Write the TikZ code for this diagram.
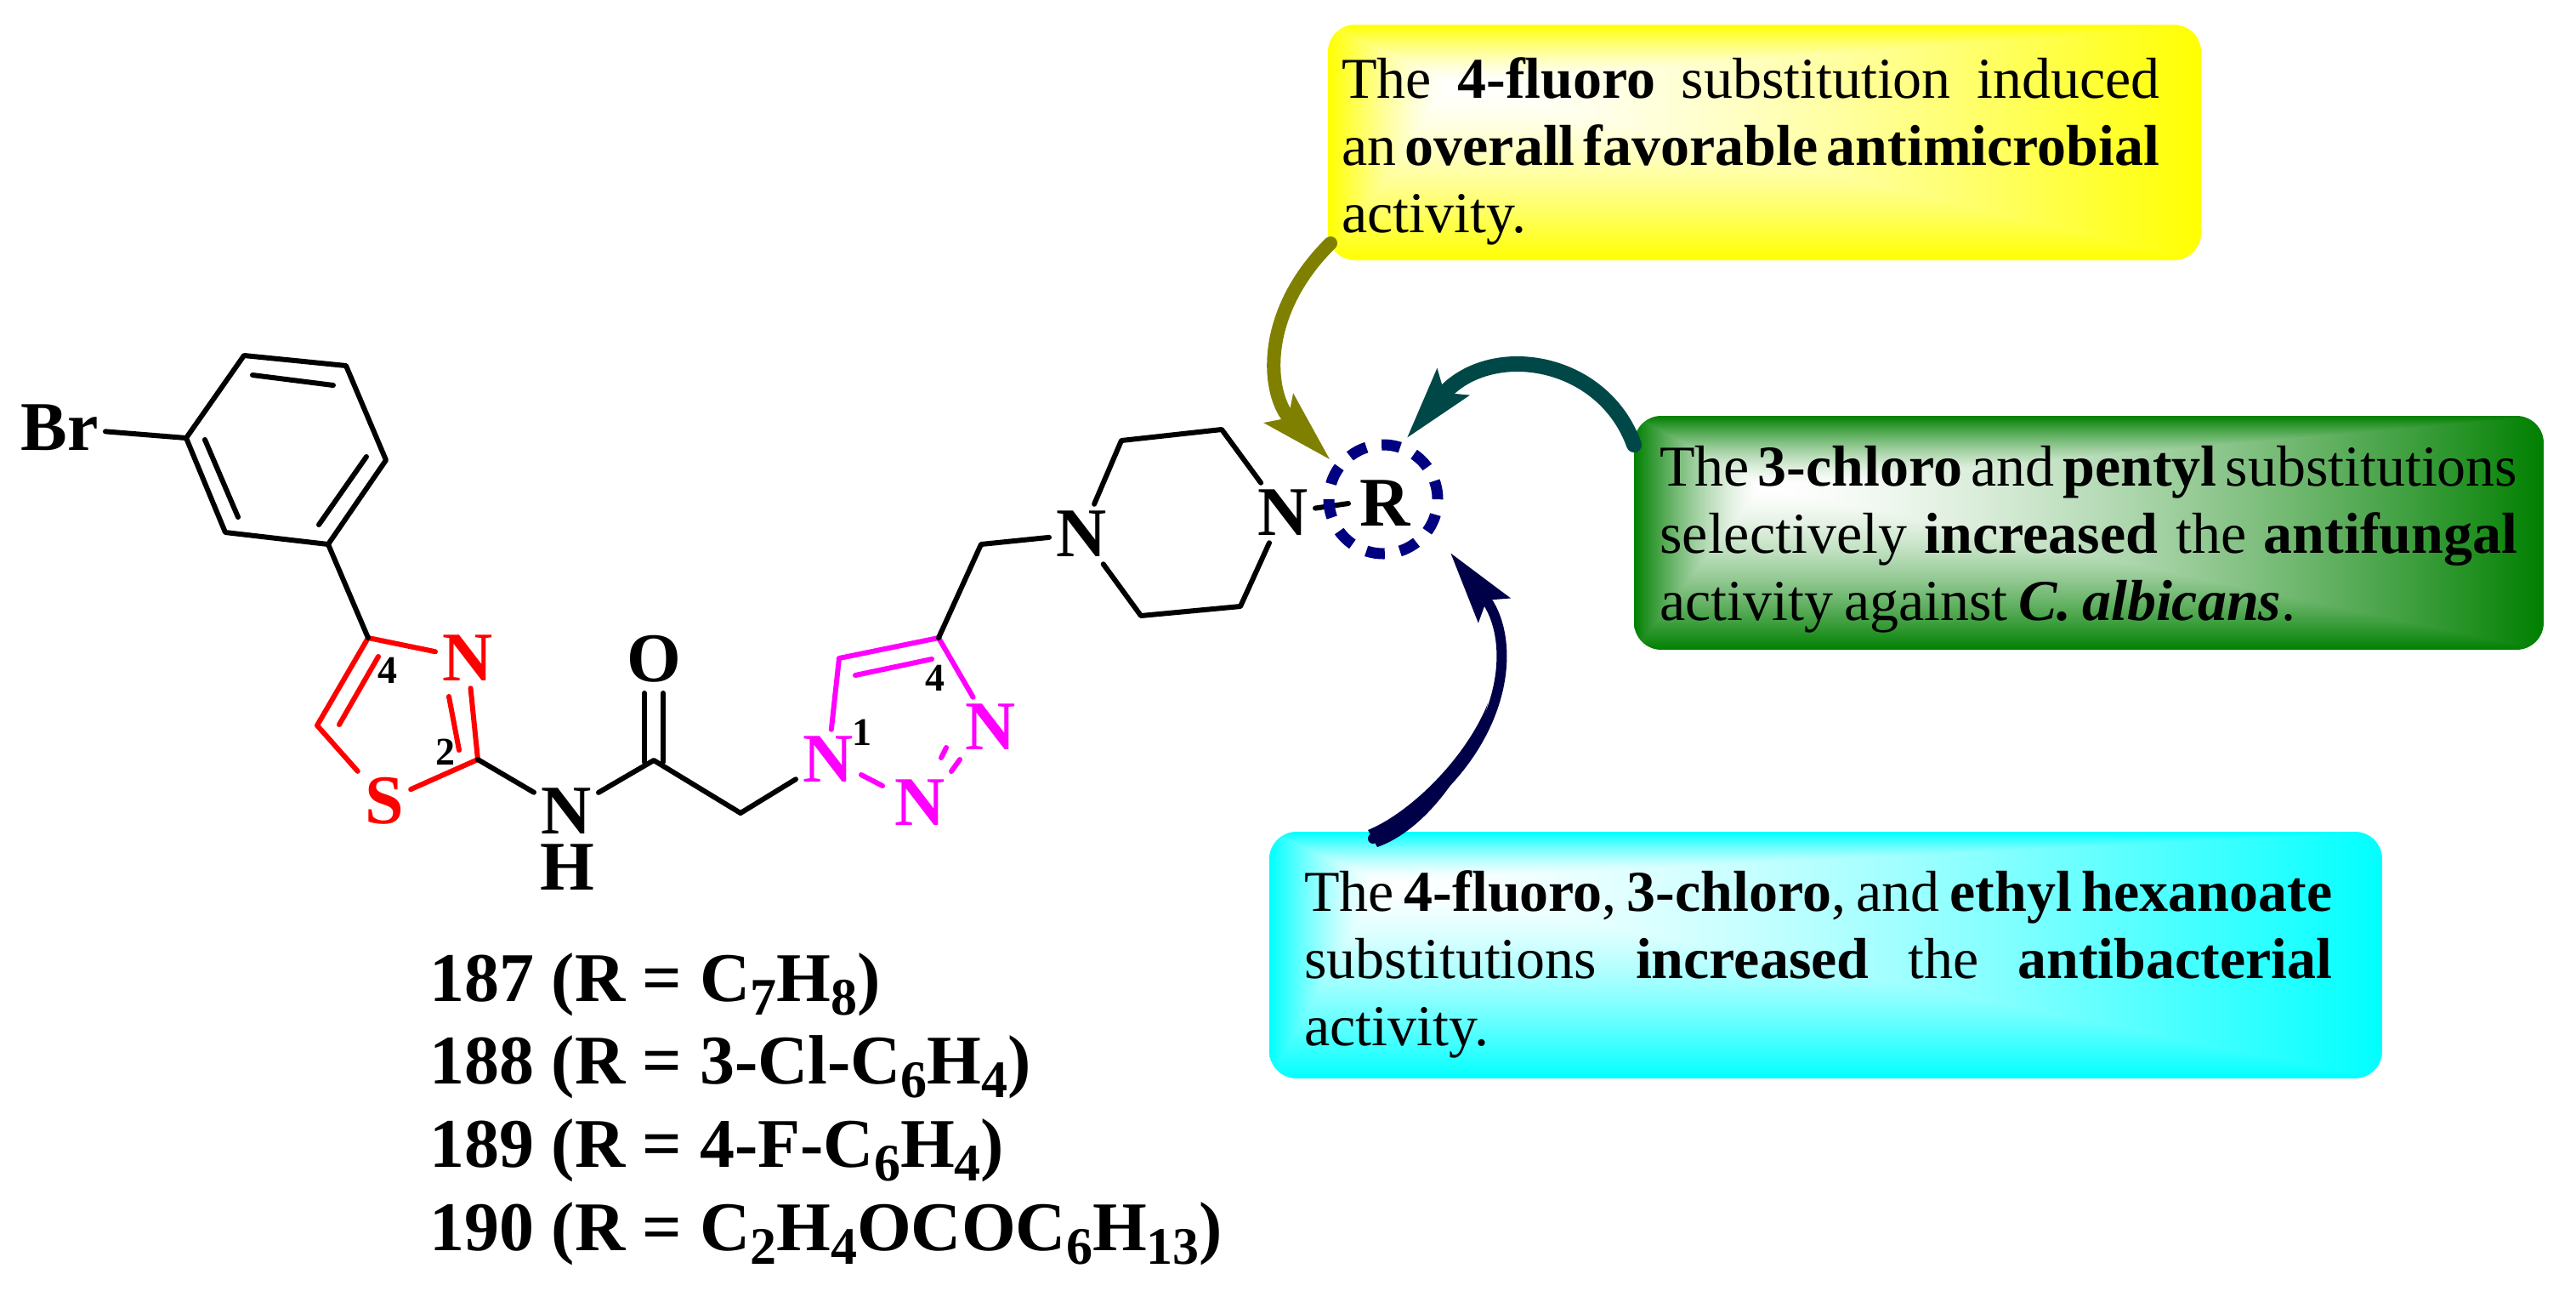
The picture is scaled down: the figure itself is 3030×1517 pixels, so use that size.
\documentclass[tikz,border=0pt]{standalone}
\usepackage{fontspec}
\setmainfont{Liberation Serif}
\usetikzlibrary{arrows.meta}
\newcommand\declbox[6]{%
\pgfdeclarefunctionalshading{#1}{\pgfpoint{-25bp}{-25bp}}{\pgfpoint{25bp}{25bp}}{}{%
 25 exch sub 50 div exch 25 add 50 div exch
 #3 sub dup 0 lt {neg #3 div}{1 #3 sub div} ifelse exch
 #2 sub dup 0 lt {neg #2 div}{1 #2 sub div} ifelse
 2 copy lt {exch} if pop
 dup sqrt mul
 dup dup #6 mul 1 exch sub 3 1 roll #5 mul 1 exch sub exch #4 mul 1 exch sub exch 3 -1 roll}}
\declbox{yshade}{0.14}{0.25}{0}{0}{1}
\declbox{gshade}{0.14}{0.30}{1}{0.5}{1}
\declbox{cshade}{0.10}{0.20}{1}{0}{0}
\definecolor{olivearrow}{HTML}{808000}
\definecolor{tealarrow}{HTML}{004848}
\definecolor{navyarrow}{HTML}{000048}
\definecolor{navyring}{HTML}{000080}
\definecolor{atomred}{HTML}{FF0000}
\definecolor{atommag}{HTML}{FF00FF}
\newcommand\lsub[1]{\raisebox{-.2em}{\fontsize{31}{31}\selectfont #1}}
\newcommand\jl[2]{\hbox to #1{\spaceskip=.14em plus 1em\relax #2}}
\tikzset{
 bond/.style={line width=3pt,line cap=round,line join=round},
 atom/.style={font=\fontsize{41}{41}\selectfont\bfseries,inner sep=4pt},
 idx/.style={font=\fontsize{23}{23}\selectfont\bfseries,inner sep=0pt},
 infotext/.style={anchor=north west,inner sep=0pt,text width=#1,font=\fontsize{34}{39.5}\selectfont},
 listline/.style={anchor=base west,inner sep=0pt,font=\fontsize{41}{41}\selectfont\bfseries},
 conn/.style={line width=#1,line cap=round,-{Stealth[length=42pt,width=23pt,inset=7pt]}},
}
\begin{document}
\begin{tikzpicture}[x=0.5pt,y=-0.5pt]
\useasboundingbox (0,0) rectangle (3030,1517);
% boxes
\shade[shading=yshade,rounded corners=16pt] (1562,29) rectangle (2589,306);
\shade[shading=gshade,rounded corners=16pt] (1922,489) rectangle (2992,764);
\shade[shading=cshade,rounded corners=16pt] (1493,978) rectangle (2802,1268);
\node[infotext=481pt] (ytext) at (1578,67) {\baselineskip=39.5pt
 \jl{481pt}{The \textbf{4-fluoro} substitution induced}
 \jl{481pt}{an \textbf{overall favorable antimicrobial}}
 \hbox{activity.}};
\node[infotext=504.5pt] (gtext) at (1952,524) {\baselineskip=39.5pt
 \jl{504.5pt}{The \textbf{3-chloro} and \textbf{pentyl} substitutions}
 \jl{504.5pt}{selectively \textbf{increased} the \textbf{antifungal}}
 \jl{374pt}{activity against \textbf{\textit{C. albicans}}.}};
\node[infotext=604.5pt] (ctext) at (1534,1023) {\baselineskip=39.5pt
 \jl{604.5pt}{The \textbf{4-fluoro}, \textbf{3-chloro}, and \textbf{ethyl hexanoate}}
 \jl{604.5pt}{substitutions \textbf{increased} the \textbf{antibacterial}}
 \hbox{activity.}};
% phenyl
\coordinate (a1) at (287,418); \coordinate (a2) at (407,430); \coordinate (a3) at (454,541);
\coordinate (a4) at (386,640); \coordinate (a5) at (265,626); \coordinate (a6) at (219,515);
\node[atom] (br) at (70,503) {Br};
\draw[bond] (a1)--(a2)--(a3)--(a4)--(a5)--(a6)--cycle;
\coordinate (i1) at (297,441); \coordinate (i2) at (392,453);
\coordinate (i3) at (241,517); \coordinate (i4) at (280,608);
\coordinate (i5) at (431,537); \coordinate (i6) at (375,617);
\draw[bond] (i1)--(i2) (i3)--(i4) (i5)--(i6);
\draw[bond] (br)--(a6);
% thiazole
\coordinate (t4) at (433,750); \coordinate (t5) at (373,853); \coordinate (t2) at (562,893);
\node[atom,text=atomred] (tn) at (550,774) {N};
\node[atom,text=atomred] (ts) at (452,942) {S};
\coordinate (i7) at (445,772); \coordinate (i8) at (399,852);
\coordinate (i9) at (528,819); \coordinate (i10) at (540,882);
\draw[bond,atomred] (tn)--(t4)--(t5)--(ts)--(t2)--(tn);
\draw[bond,atomred] (i7)--(i8) (i9)--(i10);
\draw[bond] (a4)--(t4);
\node[idx] (l4a) at (456,788) {4};
\node[idx] (l2) at (524,884) {2};
% amide
\node[atom] (nh) at (666,954) {N};
\node[atom,inner sep=0pt] (hh) at (667,1020) {H};
\coordinate (co) at (769,894);
\node[atom] (oo) at (769,775) {O};
\coordinate (ch1) at (871,956);
\draw[bond] (t2)--(nh)--(co)--(ch1);
\coordinate (o1a) at (758,815); \coordinate (o1b) at (758,896);
\coordinate (o2a) at (780,815); \coordinate (o2b) at (780,896);
\draw[bond] (o1a)--(o1b) (o2a)--(o2b);
% triazole
\node[atom,text=atommag] (n1) at (974,893) {N};
\node[atom,text=atommag] (n2) at (1082,944) {N};
\node[atom,text=atommag] (n3) at (1165,855) {N};
\coordinate (c5) at (987,774); \coordinate (c4) at (1104,750);
\draw[bond] (ch1)--(n1);
\draw[bond,atommag] (n1)--(c5)--(c4)--(n3);
\coordinate (i11) at (1006,794); \coordinate (i12) at (1096,775);
\coordinate (d1) at (1013,911); \coordinate (d2) at (1038,924);
\coordinate (d3) at (1107,891); \coordinate (d4) at (1113,879);
\coordinate (d5) at (1119,907); \coordinate (d6) at (1129,893);
\draw[bond,atommag] (i11)--(i12) (d1)--(d2) (d3)--(d4) (d5)--(d6);
\node[idx] (l1) at (1014,861) {1};
\node[idx] (l4b) at (1100,797) {4};
% piperazine
\coordinate (ch2) at (1154,640);
\node[atom] (pn1) at (1272,628) {N};
\node[atom] (pn4) at (1509,603) {N};
\coordinate (p2) at (1319,518); \coordinate (p3) at (1437,505);
\coordinate (p5) at (1459,713); \coordinate (p6) at (1342,724);
\draw[bond] (c4)--(ch2)--(pn1)--(p2)--(p3)--(pn4)--(p5)--(p6)--(pn1);
% R
\node[atom,inner sep=0pt] (rr) at (1629,592) {R};
\coordinate (nb) at (1586,592);
\draw[bond] (pn4)--(nb);
\node[circle,draw=navyring,line width=6.5pt,dash pattern=on 11pt off 9.1pt,minimum size=64pt,inner sep=0pt] (ring) at (1627,587) {};
% arrows
\coordinate (ys) at (1565,286); \coordinate (yt) at (1565,541);
\coordinate (gs) at (1922,523); \coordinate (gt) at (1654,516);
\coordinate (cs) at (1615,986); \coordinate (ct) at (1706,650);
\draw[conn=8pt,olivearrow] (ys) .. controls (1480,370) and (1490,466) .. (yt);
\draw[conn=9pt,tealarrow] (gs) .. controls (1885,420) and (1750,400) .. (gt);
\draw[conn=6pt,navyarrow] (cs) .. controls (1770,900) and (1790,760) .. (ct);
\fill[navyarrow] (1609,976) .. controls (1660,955) and (1725,890) .. (1750,827) .. controls (1735,895) and (1680,975) .. (1620,996) -- cycle;
% list
\node[listline] (la) at (505,1177) {187 (R = C\lsub{7}H\lsub{8})};
\node[listline] (lb) at (505,1274) {188 (R = 3-Cl-C\lsub{6}H\lsub{4})};
\node[listline] (lc) at (505,1372) {189 (R = 4-F-C\lsub{6}H\lsub{4})};
\node[listline] (ld) at (505,1470) {190 (R = C\lsub{2}H\lsub{4}OCOC\lsub{6}H\lsub{13})};
\end{tikzpicture}
\end{document}
